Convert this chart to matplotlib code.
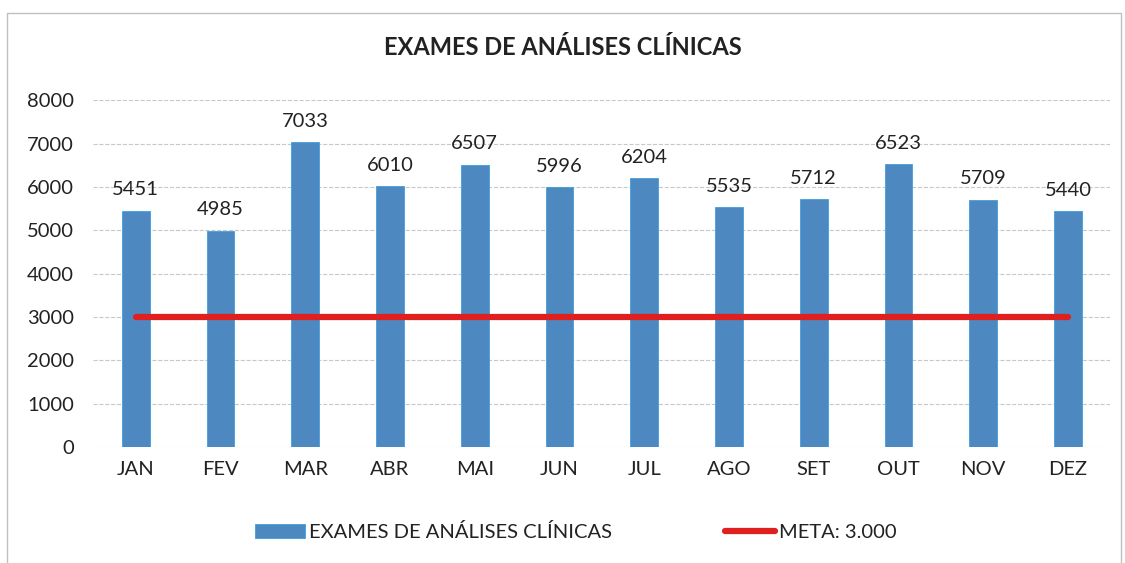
import matplotlib.pyplot as plt
import numpy as np
from matplotlib.patches import Rectangle

plt.rcParams['font.family'] = ['Lato', 'DejaVu Sans']

# Data
months = ['JAN', 'FEV', 'MAR', 'ABR', 'MAI', 'JUN', 'JUL', 'AGO', 'SET', 'OUT', 'NOV', 'DEZ']
exames = [5451, 4985, 7033, 6010, 6507, 5996, 6204, 5535, 5712, 6523, 5709, 5440]
meta = [3000] * 12

bar_color = '#4d89c0'
line_color = '#e0201f'

fig = plt.figure(figsize=(11.25, 5.63), dpi=100)
ax = fig.add_axes([0.083, 0.206, 0.904, 0.616])

x = np.arange(len(months))
bars = ax.bar(x, exames, 0.33, color=bar_color, edgecolor='#3fa0e0', linewidth=0.6,
              label='EXAMES DE ANÁLISES CLÍNICAS', zorder=2)
line, = ax.plot(x, meta, color=line_color, linewidth=4.5, solid_capstyle='round',
                label='META: 3.000', zorder=3)

ax.bar_label(bars, padding=9, fontsize=14.5, color='#222222')

ax.set_xlim(-0.5, len(months) - 0.5)
ax.set_ylim(0, 8000)
ax.set_yticks(np.arange(0, 8001, 1000))
ax.set_xticks(x)
ax.set_xticklabels(months)
ax.tick_params(axis='both', length=0, labelsize=14.5, colors='#222222')
ax.tick_params(axis='x', pad=10)
ax.tick_params(axis='y', pad=14)
ax.grid(True, axis='y', color='#c8c8c8', linestyle='--', linewidth=0.8, zorder=0)
for s in ax.spines.values():
    s.set_visible(False)

fig.text(0.5, 0.915, 'EXAMES DE ANÁLISES CLÍNICAS', ha='center', va='center',
         fontsize=17, fontweight='bold', color='#222222')

fig.legend(handles=[bars, line], loc='center', bbox_to_anchor=(0.512, 0.055), ncol=2,
           frameon=False, fontsize=14.5, columnspacing=5.6, handlelength=2.5,
           handletextpad=0.2, labelcolor='#222222')

fig.patches.append(Rectangle((0.006, -0.02), 0.99, 0.997, transform=fig.transFigure,
                             fill=False, edgecolor='#c0c0c0', linewidth=1))

plt.savefig('out.png', dpi=100)
